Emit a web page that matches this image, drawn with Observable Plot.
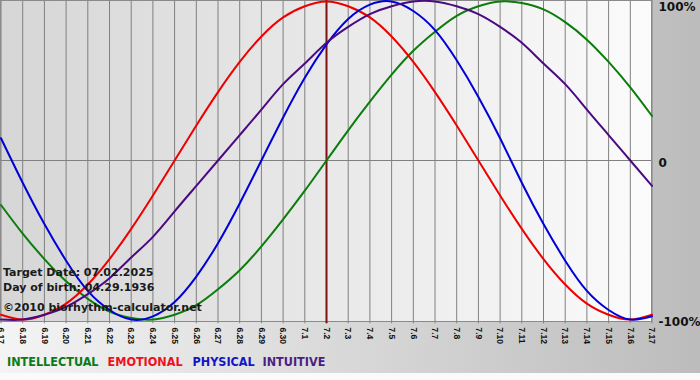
<!DOCTYPE html>
<html><head><meta charset="utf-8">
<script src="https://cdn.jsdelivr.net/npm/d3@7"></script>
<script src="https://cdn.jsdelivr.net/npm/@observablehq/plot@0.6"></script>
<style>
html,body{margin:0;padding:0;}
body{width:700px;height:380px;overflow:hidden;}
#wrap{position:relative;width:700px;height:380px;background:linear-gradient(to right,#f4f4f4,#bcbcbc);}
#chart svg{display:block;}
#legend{position:absolute;left:0;top:354px;height:16px;width:700px;font:bold 12.5px "DejaVu Sans Condensed","DejaVu Sans",sans-serif;}
#legend span{position:absolute;top:0;line-height:16px;white-space:nowrap;}
#strip{position:absolute;left:0;right:0;bottom:0;height:7px;background:#fafafa;}
</style></head><body><div id="wrap"><div id="chart"></div><div id="legend"></div><div id="strip"></div></div>
<script>
const days = ["6.17","6.18","6.19","6.20","6.21","6.22","6.23","6.24","6.25","6.26","6.27","6.28","6.29","6.30",
  "7.1","7.2","7.3","7.4","7.5","7.6","7.7","7.8","7.9","7.10","7.11","7.12","7.13","7.14","7.15","7.16","7.17"];
const intellectual = [-0.28,-0.46,-0.62,-0.76,-0.87,-0.95,-0.99,-1.00,-0.97,-0.91,-0.81,-0.69,-0.54,-0.37,-0.19,0,0.19,0.37,0.54,0.69,0.81,0.91,0.97,1.00,0.99,0.95,0.87,0.76,0.62,0.46,0.28];
const emotional = [-0.97,-1.00,-0.97,-0.90,-0.78,-0.62,-0.43,-0.22,0,0.22,0.43,0.62,0.78,0.90,0.97,1.00,0.97,0.90,0.78,0.62,0.43,0.22,0,-0.22,-0.43,-0.62,-0.78,-0.90,-0.97,-1.00,-0.97];
const physical = [0.14,-0.14,-0.40,-0.63,-0.82,-0.94,-1.00,-0.98,-0.89,-0.73,-0.52,-0.27,0,0.27,0.52,0.73,0.89,0.98,1.00,0.94,0.82,0.63,0.40,0.14,-0.14,-0.40,-0.63,-0.82,-0.94,-1.00,-0.98];
const intuitive = [-1.00,-1.00,-0.97,-0.92,-0.84,-0.74,-0.61,-0.48,-0.32,-0.16,0,0.16,0.32,0.48,0.61,0.74,0.84,0.92,0.97,1.00,1.00,0.97,0.92,0.84,0.74,0.61,0.48,0.32,0.16,0,-0.16];
const seriesNames = ["INTELLECTUAL","EMOTIONAL","PHYSICAL","INTUITIVE"];
const targetDay = "7.2";
const yTicks = [1, 0, -1];
const yTickLabels = ["100%", "0", "-100%"];
const infoTarget = ["Target Date: 07.02.2025"];
const infoBirth = ["Day of birth: 04.29.1936"];
const infoCredit = ["\u00a92010 biorhythm-calculator.net"];

const colors = {INTELLECTUAL:"#0a7d0a", EMOTIONAL:"#ee0000", PHYSICAL:"#0000d8", INTUITIVE:"#4b0a82"};
const legendColors = {INTELLECTUAL:"#0b7a16", EMOTIONAL:"#f0101c", PHYSICAL:"#1414c8", INTUITIVE:"#4b1e82"};
const valuesBy = {INTELLECTUAL: intellectual, EMOTIONAL: emotional, PHYSICAL: physical, INTUITIVE: intuitive};
const idx = days.map((d, i) => i);
const rows = [];
for (const s of seriesNames) days.forEach((d, i) => rows.push({i, v: valuesBy[s][i], s}));
const fmtY = v => yTickLabels[yTicks.indexOf(v)];
const font = "DejaVu Sans";

const chart = Plot.plot({
  width: 700, height: 345,
  marginLeft: 0, marginRight: 49, marginTop: 0, marginBottom: 24,
  style: {background: "transparent", fontFamily: font, overflow: "visible"},
  x: {type: "linear", domain: [0, days.length - 1], range: [0.5, 651.5]},
  y: {domain: [-1, 1], range: [319, 1]},
  marks: [
    Plot.frame({fill: "url(#plotgrad)"}),
    Plot.ruleX(idx, {y1: -1.027, y2: 1.01, stroke: "#808080", strokeWidth: 1}),
    Plot.ruleY([0], {stroke: "#808080", strokeWidth: 1}),
    Plot.frame({stroke: "#8a8a8a"}),
    Plot.ruleX([days.indexOf(targetDay)], {y1: -1.027, y2: 1.01, stroke: "#7a1010", strokeWidth: 2}),
    Plot.line(rows, {x: "i", y: "v", z: "s", stroke: d => colors[d.s], strokeWidth: 2, curve: "natural"}),
    Plot.text(infoTarget, {frameAnchor: "bottom-left", dx: 2.5, dy: -49, lineAnchor: "middle", fontSize: 11, fontWeight: "bold", fill: "#1a1a1a"}),
    Plot.text(infoBirth, {frameAnchor: "bottom-left", dx: 2.5, dy: -34, lineAnchor: "middle", fontSize: 11, fontWeight: "bold", fill: "#1a1a1a"}),
    Plot.text(infoCredit, {frameAnchor: "bottom-left", dx: 2.5, dy: -14, lineAnchor: "middle", fontSize: 11, fontWeight: "bold", fill: "#1a1a1a"}),
    Plot.axisX(idx, {anchor: "bottom", label: null, tickFormat: i => days[i], tickSize: 0, tickPadding: 6, tickRotate: 90, fontSize: 8.5, fontWeight: "bold", fontFamily: "Liberation Sans", fill: "#111", stroke: "#808080"}),
    Plot.axisY([0, -1], {anchor: "right", label: null, tickSize: 0, tickPadding: 7, tickFormat: fmtY, fontSize: 12, fontWeight: "bold", fill: "#111", dy: 2.5}),
    Plot.axisY([1], {anchor: "right", label: null, tickSize: 0, tickPadding: 7, tickFormat: fmtY, fontSize: 12, fontWeight: "bold", fill: "#111", dy: 6})
  ]
});
const ns = "http://www.w3.org/2000/svg";
const defs = document.createElementNS(ns, "defs");
const grad = document.createElementNS(ns, "linearGradient");
grad.setAttribute("id", "plotgrad");
grad.setAttribute("x1", "0"); grad.setAttribute("x2", "1"); grad.setAttribute("y1", "0"); grad.setAttribute("y2", "0");
[["0", "#d6d6d6"], ["1", "#fbfbfb"]].forEach(([o, c]) => {
  const st = document.createElementNS(ns, "stop");
  st.setAttribute("offset", o); st.setAttribute("stop-color", c);
  grad.appendChild(st);
});
defs.appendChild(grad);
chart.insertBefore(defs, chart.firstChild);
document.getElementById("chart").appendChild(chart);

const legendLeft = [7, 107.5, 192.5, 262.5];
const legend = document.getElementById("legend");
seriesNames.forEach((s, i) => {
  const sp = document.createElement("span");
  sp.textContent = s;
  sp.style.left = legendLeft[i] + "px";
  sp.style.color = legendColors[s];
  legend.appendChild(sp);
});
</script>
</body></html>
